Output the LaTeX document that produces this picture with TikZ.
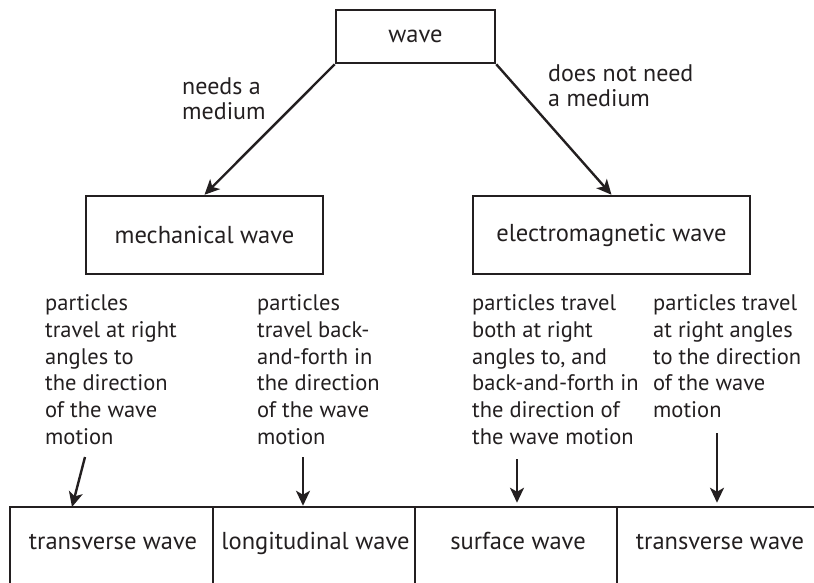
\documentclass[tikz,border=0pt]{standalone}
\usepackage{fontspec}
\setmainfont{PT Sans}
\usetikzlibrary{arrows.meta,calc}
\definecolor{ink}{HTML}{231F20}
\begin{document}
\begin{tikzpicture}[x=1pt,y=-1pt,
  every node/.style={text=ink},
  btxt/.style={font=\fontsize{24.5}{30}\selectfont},
  dtxt/.style={font=\fontsize{22.5}{26.7}\selectfont},
  ltxt/.style={font=\fontsize{24}{25}\selectfont},
  box/.style={draw=ink,line width=2.5pt,rectangle,inner sep=0pt,btxt},
  lbl/.style={align=left,inner sep=0pt,anchor=north west},
  arr/.style={draw=ink,line width=2.4pt,-{Stealth[length=15pt,width=14pt,inset=4pt]}}]
\useasboundingbox (0,0) rectangle (814,582);
\clip (0,0) rectangle (814,582);
% top boxes
\node[box,minimum width=159pt,minimum height=53pt] (wave) at (415.5,36.5) {wave};
\node[box,minimum width=237pt,minimum height=78pt] (mech) at (204.5,235) {mechanical wave};
\node[box,minimum width=277pt,minimum height=78pt] (elec) at (611.5,235) {electromagnetic wave};
\draw[arr] (wave.south west) -- (mech.north);
\draw[arr] (wave.south east) -- (elec.north);
\node[lbl,ltxt] (need) at (182,77.5) {needs a\\medium};
\node[lbl,ltxt] (noneed) at (548,64) {does not need\\a medium};
% descriptions
\node[lbl,dtxt] (d1) at (45,294.5) {particles\\travel at right\\angles to\\the direction\\of the wave\\motion};
\node[lbl,dtxt] (d2) at (257,294.5) {particles\\travel back-\\and-forth in\\the direction\\of the wave\\motion};
\node[lbl,dtxt] (d3) at (472,294.5) {particles travel\\both at right\\angles to, and\\back-and-forth in\\the direction of\\the wave motion};
\node[lbl,dtxt] (d4) at (653,294.5) {particles travel\\at right angles\\to the direction\\of the wave\\motion};
% bottom cells
\node[box,minimum width=203pt,minimum height=100pt] (c1) at (111.5,557) {};
\node[box,minimum width=202pt,minimum height=100pt] (c2) at (314,557) {};
\node[box,minimum width=202pt,minimum height=100pt] (c3) at (516,557) {};
\node[box,minimum width=204pt,minimum height=100pt] (c4) at (719,557) {};
\node[btxt,anchor=base,inner sep=0pt] (t1) at (113,549) {transverse wave};
\node[btxt,anchor=base,inner sep=0pt] (t2) at (315.5,549) {longitudinal wave};
\node[btxt,anchor=base,inner sep=0pt] (t3) at (518,549) {surface wave};
\node[btxt,anchor=base,inner sep=0pt] (t4) at (720,549) {transverse wave};
% arrows to cells
\coordinate (s1) at (85,457);
\coordinate (e1) at (72,507);
\coordinate (s2) at (303,457);
\coordinate (s3) at (517,459);
\coordinate (s4) at (717,433);
\draw[arr] (s1) -- (e1);
\draw[arr] (s2) -- (s2 |- c2.north);
\draw[arr] (s3) -- ($(s3 |- c3.north)+(0,-3)$);
\draw[arr] (s4) -- ($(s4 |- c4.north)+(0,-3)$);
\end{tikzpicture}
\end{document}
